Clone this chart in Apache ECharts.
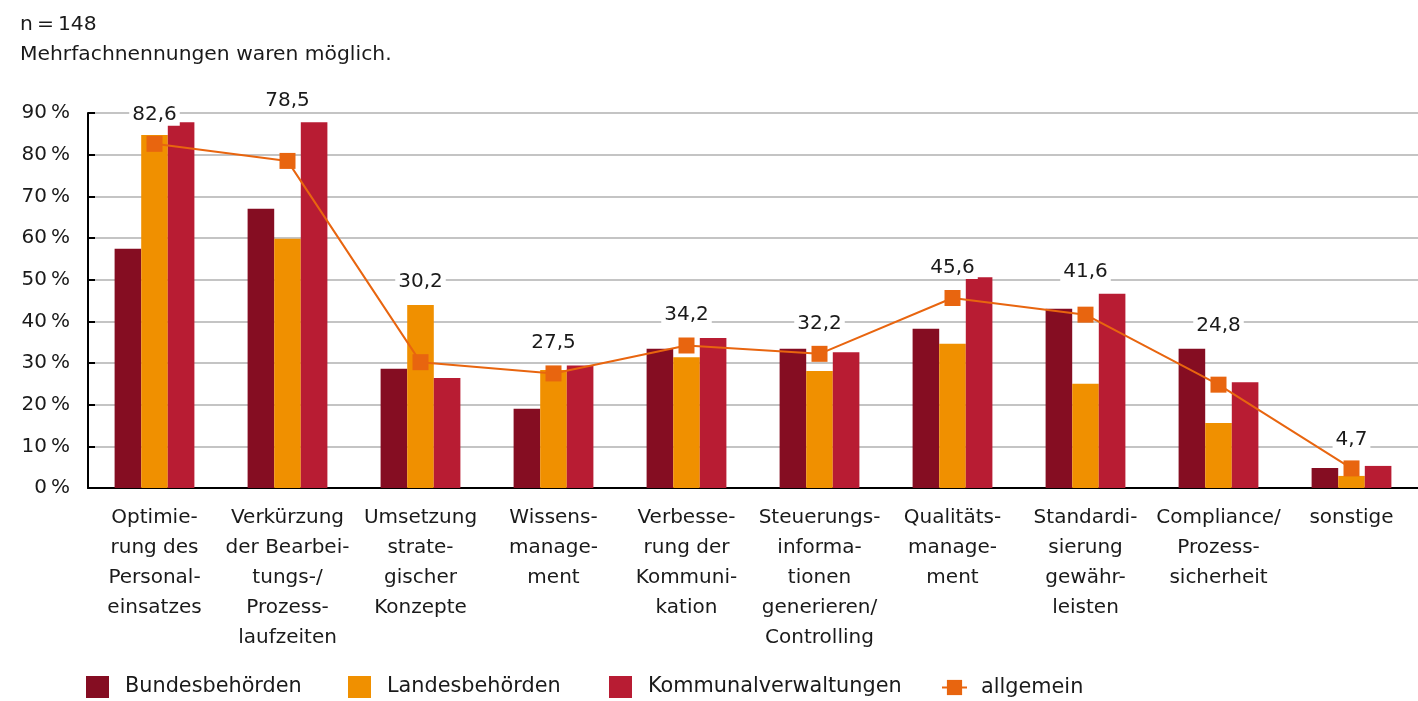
<!DOCTYPE html>
<html>
<head>
<meta charset="utf-8">
<script src="https://cdn.jsdelivr.net/npm/echarts@6/dist/echarts.min.js"></script>
<style>
  html, body { margin: 0; padding: 0; background: #fff; }
  #chart { width: 1418px; height: 701px; }
</style>
</head>
<body>
<div id="chart"></div>
<script>
  // Kategorien (Achsenbeschriftung mit Trennstrichen)
  const categories = [
    'Optimie-\nrung des\nPersonal-\neinsatzes',
    'Verkürzung\nder Bearbei-\ntungs-/\nProzess-\nlaufzeiten',
    'Umsetzung\nstrate-\ngischer\nKonzepte',
    'Wissens-\nmanage-\nment',
    'Verbesse-\nrung der\nKommuni-\nkation',
    'Steuerungs-\ninforma-\ntionen\ngenerieren/\nControlling',
    'Qualitäts-\nmanage-\nment',
    'Standardi-\nsierung\ngewähr-\nleisten',
    'Compliance/\nProzess-\nsicherheit',
    'sonstige'
  ];
  const bundesbehoerden = [57.4, 67.0, 28.6, 19.0, 33.4, 33.4, 38.2, 43.0, 33.4, 4.8];
  const landesbehoerden = [84.7, 59.8, 43.9, 28.3, 31.4, 28.1, 34.6, 25.0, 15.6, 2.9];
  const kommunalverwaltungen = [87.8, 87.8, 26.4, 29.4, 36.0, 32.6, 50.6, 46.6, 25.4, 5.3];
  const allgemein = [82.6, 78.5, 30.2, 27.5, 34.2, 32.2, 45.6, 41.6, 24.8, 4.7];

  const font = 'DejaVu Sans, sans-serif';
  const textColor = '#1a1a1a';
  // zusätzliche Verschiebung der Wertebeschriftung, damit sie nicht über den Balken liegt
  const labelShift = [0, -31, -51, -2, -2, -1, -1, -14, -30, 0];

  const legendText = { fontFamily: font, fontSize: 20.8, color: textColor, padding: [0, 0, 0, 11] };
  function legendItem(name, left, extra) {
    return Object.assign({
      left: left,
      top: 671,
      itemWidth: 23,
      itemHeight: 22,
      textStyle: legendText,
      data: [{ name: name, icon: 'rect' }]
    }, extra || {});
  }

  let myChart = echarts.init(document.getElementById('chart'));
  myChart.setOption({
    textStyle: { fontFamily: font, color: textColor },
    title: {
      text: 'n\u2009=\u2009148\nMehrfachnennungen waren möglich.',
      left: 15,
      top: 5,
      textStyle: { fontFamily: font, fontSize: 20.3, fontWeight: 'normal', color: textColor, lineHeight: 30 }
    },
    legend: [
      legendItem('Bundesbehörden', 81),
      legendItem('Landesbehörden', 343),
      legendItem('Kommunalverwaltungen', 604),
      legendItem('allgemein', 936, {
        top: 672,
        itemWidth: 25,
        itemHeight: 19,
        textStyle: Object.assign({}, legendText, { padding: [0, 0, 0, 9] }),
        data: [{ name: 'allgemein' }]
      })
    ],
    grid: { left: 88, right: 0, top: 113, bottom: 213, containLabel: false },
    xAxis: {
      type: 'category',
      data: categories,
      axisLine: { lineStyle: { color: '#000', width: 2 } },
      axisTick: { inside: true, length: 7, lineStyle: { color: '#000', width: 2 } },
      axisLabel: {
        interval: 0,
        fontSize: 20,
        lineHeight: 30,
        margin: 15,
        color: textColor,
        fontFamily: font
      }
    },
    yAxis: {
      type: 'value',
      min: 0,
      max: 90,
      interval: 10,
      axisLine: { show: true, lineStyle: { color: '#000', width: 2 } },
      axisTick: { show: true, inside: true, length: 7, lineStyle: { color: '#000', width: 2 } },
      splitLine: { lineStyle: { color: '#b0b0b0', width: 1.5 } },
      axisLabel: {
        fontSize: 20,
        margin: 18,
        color: textColor,
        fontFamily: font,
        formatter: v => v + '\u2009%'
      }
    },
    series: [
      {
        name: 'Bundesbehörden',
        type: 'bar',
        barGap: '0%',
        barCategoryGap: '40%',
        itemStyle: { color: '#850d22' },
        data: bundesbehoerden
      },
      {
        name: 'Landesbehörden',
        type: 'bar',
        itemStyle: { color: '#f09000' },
        data: landesbehoerden
      },
      {
        name: 'Kommunalverwaltungen',
        type: 'bar',
        itemStyle: { color: '#b81c33' },
        data: kommunalverwaltungen
      },
      {
        name: 'allgemein',
        type: 'line',
        symbol: 'rect',
        symbolSize: 16,
        lineStyle: { color: '#e8650f', width: 2 },
        itemStyle: { color: '#e8650f' },
        z: 5,
        label: {
          show: true,
          position: 'top',
          distance: 10,
          fontSize: 20,
          color: textColor,
          fontFamily: font,
          backgroundColor: '#fff',
          padding: [1, 3],
          formatter: p => String(p.value).replace('.', ',')
        },
        data: allgemein.map((v, i) => ({ value: v, label: { offset: [0, labelShift[i]] } }))
      }
    ]
  });
</script>
</body>
</html>
